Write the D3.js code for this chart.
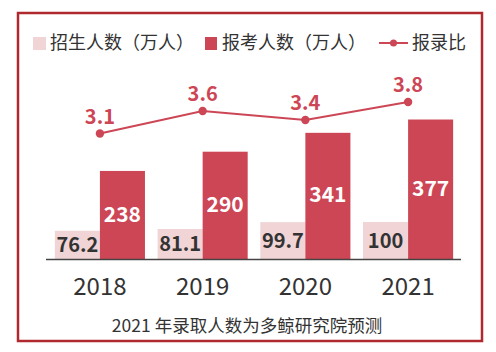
<!DOCTYPE html>
<html>
<head>
<meta charset="utf-8">
<script src="https://cdn.jsdelivr.net/npm/d3@7"></script>
<style>
  body { margin: 0; background: #fff; }
  text { font-family: "Noto Sans CJK SC", "Noto Sans", sans-serif; }
</style>
</head>
<body>
<svg id="chart" width="496" height="352"></svg>
<script>
const years = ["2018", "2019", "2020", "2021"]
const enrolled = [76.2, 81.1, 99.7, 100]
const applicants = [238, 290, 341, 377]
const ratio = [3.1, 3.6, 3.4, 3.8]
const legendLabels = ["招生人数（万人）", "报考人数（万人）", "报录比"]
const caption = "2021 年录取人数为多鲸研究院预测"

const lightColor = "#f0d4d6"
const darkColor = "#cd4655"
const textColor = "#333"
const baseline = 259

let svg = d3.select("#chart")

// frame
svg.append("rect")
  .attr("x", 18).attr("y", 13)
  .attr("width", 464).attr("height", 328)
  .attr("fill", "#fff")
  .attr("stroke", "#b0292f")
  .attr("stroke-width", 2.5)

let x = d3.scaleBand()
  .domain(years)
  .range([48.7, 459.3])
  .paddingInner(0.123)
  .paddingOuter(0.06)

let xInner = d3.scaleBand()
  .domain([0, 1])
  .range([0, x.bandwidth()])

let y = d3.scaleLinear()
  .domain([0, 400])
  .range([baseline, baseline - 148])

let yRatio = d3.scaleLinear()
  .domain([3.1, 3.8])
  .range([133.5, 102])

// light bars
svg.append("g")
  .selectAll("rect")
  .data(enrolled)
  .enter()
  .append("rect")
  .attr("x", (d, i) => x(years[i]) + xInner(0))
  .attr("y", d => y(d))
  .attr("width", xInner.bandwidth())
  .attr("height", d => baseline - y(d))
  .attr("fill", lightColor)

// dark bars
svg.append("g")
  .selectAll("rect")
  .data(applicants)
  .enter()
  .append("rect")
  .attr("x", (d, i) => x(years[i]) + xInner(1))
  .attr("y", d => y(d))
  .attr("width", xInner.bandwidth())
  .attr("height", d => baseline - y(d))
  .attr("fill", darkColor)

// bar labels
svg.append("g")
  .selectAll("text")
  .data(enrolled)
  .enter()
  .append("text")
  .attr("x", (d, i) => x(years[i]) + xInner(0) + xInner.bandwidth() / 2)
  .attr("y", d => (y(d) + baseline) / 2)
  .attr("dy", "0.36em")
  .attr("text-anchor", "middle")
  .style("font-size", "20px")
  .style("font-weight", "bold")
  .style("fill", textColor)
  .text(d => d)

svg.append("g")
  .selectAll("text")
  .data(applicants)
  .enter()
  .append("text")
  .attr("x", (d, i) => x(years[i]) + xInner(1) + xInner.bandwidth() / 2)
  .attr("y", d => (y(d) + baseline) / 2 - 1)
  .attr("dy", "0.36em")
  .attr("text-anchor", "middle")
  .style("font-size", "21px")
  .style("font-weight", "bold")
  .style("fill", "#fff")
  .text(d => d)

// x axis
let xAxis = svg.append("g")
  .attr("transform", "translate(0," + baseline + ")")
  .call(d3.axisBottom(x).tickSize(0).tickPadding(19))
xAxis.select(".domain")
  .attr("d", "M46,0.5H461")
  .attr("stroke", "#444")
  .attr("stroke-width", 1.6)
xAxis.selectAll("text")
  .style("font-size", "24px")
  .style("font-family", "'Noto Sans CJK SC', 'Noto Sans', sans-serif")
  .style("fill", textColor)

// ratio line
let cx = (d, i) => x(years[i]) + x.bandwidth() / 2
svg.append("path")
  .datum(ratio)
  .attr("fill", "none")
  .attr("stroke", darkColor)
  .attr("stroke-width", 2)
  .attr("d", d3.line().x(cx).y(d => yRatio(d)))

svg.append("g")
  .selectAll("circle")
  .data(ratio)
  .enter()
  .append("circle")
  .attr("cx", cx)
  .attr("cy", d => yRatio(d))
  .attr("r", 4.2)
  .attr("fill", darkColor)

svg.append("g")
  .selectAll("text")
  .data(ratio)
  .enter()
  .append("text")
  .attr("x", cx)
  .attr("y", d => yRatio(d) - 10)
  .attr("text-anchor", "middle")
  .style("font-size", "20px")
  .style("font-weight", "bold")
  .style("fill", darkColor)
  .text(d => d.toFixed(1))

// legend
let legendY = 43
svg.append("rect")
  .attr("x", 33).attr("y", legendY - 6)
  .attr("width", 13).attr("height", 13)
  .attr("fill", lightColor)
svg.append("text")
  .attr("x", 50).attr("y", legendY)
  .attr("dy", "0.36em")
  .style("font-size", "18px")
  .style("fill", textColor)
  .text(legendLabels[0])

svg.append("rect")
  .attr("x", 205).attr("y", legendY - 6)
  .attr("width", 12).attr("height", 13)
  .attr("fill", darkColor)
svg.append("text")
  .attr("x", 222).attr("y", legendY)
  .attr("dy", "0.36em")
  .style("font-size", "18px")
  .style("fill", textColor)
  .text(legendLabels[1])

svg.append("line")
  .attr("x1", 379).attr("x2", 408)
  .attr("y1", legendY).attr("y2", legendY)
  .attr("stroke", darkColor)
  .attr("stroke-width", 2)
svg.append("circle")
  .attr("cx", 393.5).attr("cy", legendY)
  .attr("r", 3.5)
  .attr("fill", darkColor)
svg.append("text")
  .attr("x", 412).attr("y", legendY)
  .attr("dy", "0.36em")
  .style("font-size", "18px")
  .style("fill", textColor)
  .text(legendLabels[2])

// caption
svg.append("text")
  .attr("x", 247).attr("y", 326)
  .attr("dy", "0.36em")
  .attr("text-anchor", "middle")
  .style("font-size", "17.5px")
  .style("fill", textColor)
  .text(caption)
</script>
</body>
</html>
